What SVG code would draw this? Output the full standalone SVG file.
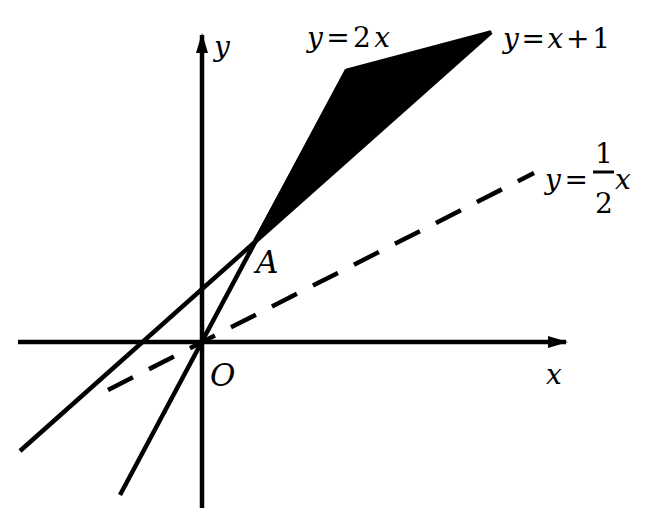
<svg xmlns="http://www.w3.org/2000/svg" width="648" height="520" viewBox="0 0 648 520">
<defs>
<style>
.ln{stroke:#000;stroke-width:4.5;fill:none;stroke-linecap:butt}
.ds{stroke-dasharray:28 18}
.t{font-family:"DejaVu Serif","Liberation Serif",serif;font-size:28px;fill:#000}
.i{font-style:italic}
.b{font-size:31px}
</style>
<marker id="ar" viewBox="0 0 20 12" refX="18" refY="6" markerWidth="20" markerHeight="12" markerUnits="userSpaceOnUse" orient="auto">
<path d="M0,0 L20,6 L0,12 Z" fill="#000"/>
</marker>
</defs>
<rect width="648" height="520" fill="#fff"/>
<g id="region">
<polygon points="255,240 347,70 490,32" fill="#000" stroke="#000" stroke-width="3" stroke-linejoin="round"/>
</g>
<g id="connectors">
<line id="x-axis" class="ln" x1="18" y1="342" x2="566" y2="342" marker-end="url(#ar)"/>
<line id="y-axis" class="ln" x1="202" y1="508" x2="202" y2="35" marker-end="url(#ar)"/>
<line id="line-2x" class="ln" x1="120" y1="495" x2="347" y2="70"/>
<line id="line-x1" class="ln" x1="20" y1="451" x2="491" y2="32"/>
<line id="line-half" class="ln ds" x1="108" y1="390" x2="534" y2="173"/>
</g>
<g id="labels">
<text class="t i" x="214" y="56">y</text>
<text class="t" x="307" y="47" textLength="83" lengthAdjust="spacing"><tspan class="i">y</tspan>=2<tspan class="i">x</tspan></text>
<text class="t" x="503" y="48" textLength="107" lengthAdjust="spacing"><tspan class="i">y</tspan>=<tspan class="i">x</tspan>+1</text>
<text class="t" x="545" y="189" textLength="43" lengthAdjust="spacing"><tspan class="i">y</tspan>=</text>
<text class="t" x="604" y="163" text-anchor="middle">1</text>
<line x1="593" y1="172" x2="614" y2="172" stroke="#000" stroke-width="3"/>
<text class="t" x="604" y="213" text-anchor="middle">2</text>
<text class="t i" x="615" y="189">x</text>
<text class="t i b" x="256" y="273">A</text>
<text class="t i b" x="210" y="386">O</text>
<text class="t i" x="546" y="384">x</text>
</g>
</svg>
